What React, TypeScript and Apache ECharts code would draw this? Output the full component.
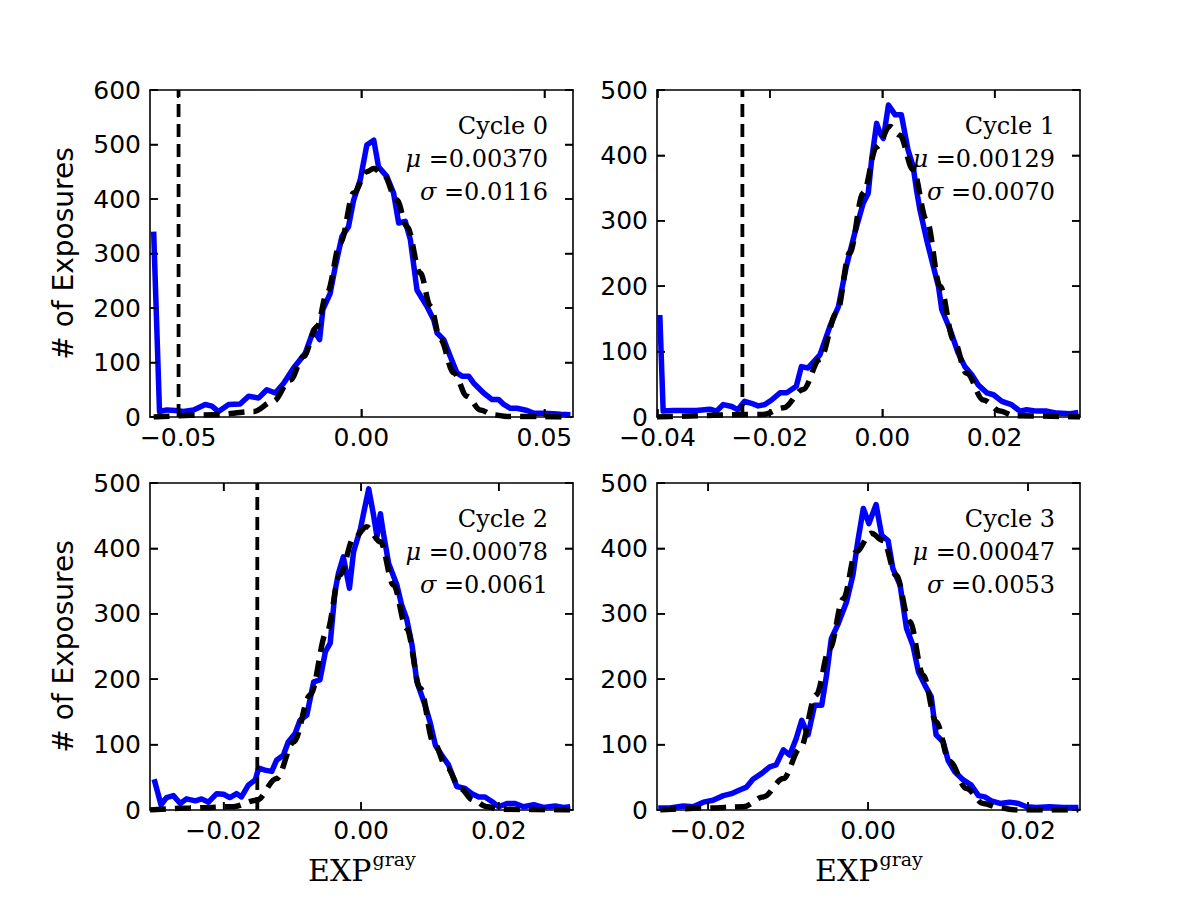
import React, { useEffect, useRef } from "react";
import * as echarts from "echarts";

// ---- Cycle 0 histogram (bin centre, # of exposures)
const cycle0X = [-0.0567,-0.0551,-0.0531,-0.0508,-0.0485,-0.0458,-0.0426,-0.0408,-0.0390,-0.0362,-0.0331,-0.0308,-0.0280,-0.0258,-0.0235,-0.0212,-0.0185,-0.0153,-0.0130,-0.0114,-0.0105,-0.0085,-0.0071,-0.0053,-0.0035,-0.0021,-0.0003,0.0015,0.0034,0.0047,0.0070,0.0088,0.0102,0.0120,0.0134,0.0152,0.0179,0.0198,0.0207,0.0225,0.0243,0.0261,0.0275,0.0293,0.0307,0.0334,0.0357,0.0375,0.0389,0.0407,0.0425,0.0453,0.0471,0.0498,0.0525,0.0544,0.0571];
const cycle0Counts = [340,10,13,12,10,13,23,20,10,23,24,38,35,50,44,62,90,117,160,142,197,227,276,331,349,398,435,499,508,459,441,411,356,359,325,233,203,178,154,142,111,81,75,75,62,44,32,32,23,16,16,12,7,7,6,5,4];
const cycle0FitX = [-0.0567,-0.0403,-0.0294,-0.0240,-0.0194,-0.0158,-0.0121,-0.0094,-0.0057,-0.0021,0.0015,0.0034,0.0061,0.0097,0.0125,0.0161,0.0189,0.0216,0.0252,0.0289,0.0325,0.0361,0.0398,0.0571];
const cycle0FitY = [0,4,10,29,68,111,166,227,319,411,450,456,444,398,349,264,203,142,81,38,13,4,1,0];

// ---- Cycle 1
const cycle1X = [-0.0396,-0.0390,-0.0372,-0.0355,-0.0331,-0.0307,-0.0295,-0.0283,-0.0268,-0.0257,-0.0245,-0.0233,-0.0221,-0.0209,-0.0197,-0.0182,-0.0170,-0.0153,-0.0144,-0.0132,-0.0111,-0.0093,-0.0078,-0.0064,-0.0049,-0.0034,-0.0025,-0.0019,-0.0010,-0.0004,0.0002,0.0011,0.0023,0.0034,0.0046,0.0055,0.0061,0.0067,0.0079,0.0091,0.0100,0.0106,0.0121,0.0135,0.0147,0.0159,0.0171,0.0186,0.0198,0.0213,0.0230,0.0245,0.0257,0.0275,0.0293,0.0311,0.0335,0.0349];
const cycle1Counts = [156,9,10,10,10,12,9,19,16,11,24,21,17,19,26,37,37,47,77,75,95,139,169,230,281,327,342,393,449,434,426,477,462,462,408,383,347,317,271,230,200,164,133,98,77,65,49,37,34,24,19,9,11,9,9,6,5,7];
const cycle1FitX = [-0.0401,-0.0212,-0.0176,-0.0141,-0.0111,-0.0081,-0.0058,-0.0034,-0.0010,0.0014,0.0031,0.0055,0.0079,0.0103,0.0127,0.0150,0.0180,0.0210,0.0234,0.0352];
const cycle1FitY = [0,4,14,42,88,159,251,342,413,444,431,378,301,200,118,67,26,9,2,0];

// ---- Cycle 2
const cycle2X = [-0.0301,-0.0291,-0.0283,-0.0273,-0.0263,-0.0254,-0.0241,-0.0232,-0.0222,-0.0210,-0.0200,-0.0191,-0.0181,-0.0174,-0.0164,-0.0154,-0.0149,-0.0140,-0.0130,-0.0123,-0.0113,-0.0106,-0.0096,-0.0089,-0.0079,-0.0069,-0.0060,-0.0052,-0.0045,-0.0038,-0.0033,-0.0026,-0.0017,-0.0011,-0.0001,0.0004,0.0011,0.0018,0.0023,0.0028,0.0032,0.0040,0.0052,0.0059,0.0066,0.0074,0.0081,0.0093,0.0100,0.0108,0.0117,0.0127,0.0139,0.0151,0.0161,0.0171,0.0180,0.0190,0.0200,0.0212,0.0224,0.0236,0.0251,0.0265,0.0282,0.0294,0.0304];
const cycle2Counts = [47,8,19,22,10,17,14,17,12,25,24,19,25,20,38,46,64,61,59,76,84,104,117,137,145,196,199,242,255,334,362,387,339,395,430,456,491,451,418,453,425,377,344,313,293,252,196,160,135,99,84,69,36,33,25,20,20,13,5,10,10,5,8,4,6,4,5];
const cycle2FitX = [-0.0307,-0.0249,-0.0186,-0.0152,-0.0123,-0.0098,-0.0074,-0.0050,-0.0031,-0.0011,0.0008,0.0028,0.0047,0.0066,0.0086,0.0105,0.0125,0.0144,0.0163,0.0183,0.0202,0.0304];
const cycle2FitY = [0,3,5,15,48,104,176,272,359,415,433,410,344,278,186,104,64,33,15,5,1,0];

// ---- Cycle 3
const cycle3X = [-0.02625,-0.0248,-0.0231,-0.0219,-0.0206,-0.0194,-0.0181,-0.0171,-0.0160,-0.0152,-0.0144,-0.0133,-0.0123,-0.0115,-0.0106,-0.0098,-0.0090,-0.0083,-0.0075,-0.0067,-0.0058,-0.0052,-0.0046,-0.0038,-0.0027,-0.0019,-0.0013,-0.0006,0.0001,0.0010,0.0017,0.0025,0.0031,0.0040,0.0048,0.0056,0.0063,0.0071,0.0079,0.0085,0.0094,0.0100,0.0108,0.0119,0.0129,0.0138,0.0146,0.0154,0.0165,0.0177,0.0188,0.0198,0.0210,0.0227,0.0244,0.0263];
const cycle3Counts = [3,3,6,5,12,15,22,25,31,35,47,56,66,69,92,84,109,137,115,160,160,206,262,283,318,359,410,461,438,467,420,412,369,344,278,252,211,191,173,115,104,76,59,46,38,22,20,14,10,12,10,5,4,5,4,4];
const cycle3FitX = [-0.0260,-0.0202,-0.0156,-0.0131,-0.0106,-0.0085,-0.0065,-0.0048,-0.0031,-0.0015,0.0004,0.0019,0.0035,0.0052,0.0069,0.0085,0.0102,0.0123,0.0144,0.0165,0.0185,0.0263];
const cycle3FitY = [0,3,5,20,48,94,176,247,323,395,423,412,359,288,206,135,74,33,10,3,0,0];

// ---- per-panel axes and annotations
const thresholds = [-0.0499, -0.0249, -0.0151, null];
const xMins = [-0.0577, -0.0401, -0.0307, -0.0264];
const xMaxs = [0.0578, 0.0352, 0.0308, 0.0265];
const xTicks = [[-0.05, 0, 0.05], [-0.04, -0.02, 0, 0.02], [-0.02, 0, 0.02], [-0.02, 0, 0.02]];
const yTicks600 = [0, 100, 200, 300, 400, 500, 600];
const yTicks500 = [0, 100, 200, 300, 400, 500];
const yTicks = [yTicks600, yTicks500, yTicks500, yTicks500];
const yMaxs = [600, 500, 500, 500];
const cycleLabels = ["Cycle 0", "Cycle 1", "Cycle 2", "Cycle 3"];
const muLabels = ["0.00370", "0.00129", "0.00078", "0.00047"];
const sigmaLabels = ["0.0116", "0.0070", "0.0061", "0.0053"];
const yTitle = "# of Exposures";

const histX = [cycle0X, cycle1X, cycle2X, cycle3X];
const histY = [cycle0Counts, cycle1Counts, cycle2Counts, cycle3Counts];
const fitX = [cycle0FitX, cycle1FitX, cycle2FitX, cycle3FitX];
const fitY = [cycle0FitY, cycle1FitY, cycle2FitY, cycle3FitY];

const GL = [150, 657, 150, 657];
const GT = [90, 90, 483, 483];
const GW = 423;
const GH = 327;
const TICK_LEN = 8;

const tickFont = "DejaVu Sans";
const serif = "DejaVu Serif";

function fmtX(v: number) {
  const s = Math.abs(v).toFixed(2);
  return v < -1e-9 ? "\u2212" + s : s;
}

function buildOption() {
  const grid: any[] = [];
  const xAxis: any[] = [];
  const yAxis: any[] = [];
  const series: any[] = [];
  const graphic: any[] = [];

  for (let i = 0; i < 4; i++) {
    grid.push({ left: GL[i], top: GT[i], width: GW, height: GH, show: false });
    const axisLine = () => ({ show: true, onZero: false, lineStyle: { color: "#000", width: 1.6 } });
    const xTick = () => ({ show: true, inside: true, length: TICK_LEN, lineStyle: { color: "#000", width: 1.5 }, customValues: xTicks[i] });
    const yTick = () => ({ show: true, inside: true, length: TICK_LEN, lineStyle: { color: "#000", width: 1.5 } });
    xAxis.push({
      gridIndex: i, type: "value", min: xMins[i], max: xMaxs[i], position: "bottom",
      axisLine: axisLine(), splitLine: { show: false }, axisTick: xTick(),
      axisLabel: {
        show: true, customValues: xTicks[i], formatter: (v: number) => fmtX(v),
        fontFamily: tickFont, fontSize: 25, color: "#000", margin: 8,
      },
    });
    xAxis.push({
      gridIndex: i, type: "value", min: xMins[i], max: xMaxs[i], position: "top",
      axisLine: axisLine(), splitLine: { show: false }, axisTick: xTick(), axisLabel: { show: false },
    });
    yAxis.push({
      gridIndex: i, type: "value", min: 0, max: yMaxs[i], interval: 100, position: "left",
      axisLine: axisLine(), splitLine: { show: false }, axisTick: yTick(),
      axisLabel: { show: true, fontFamily: tickFont, fontSize: 25, color: "#000", margin: 9 },
    });
    yAxis.push({
      gridIndex: i, type: "value", min: 0, max: yMaxs[i], interval: 100, position: "right",
      axisLine: axisLine(), splitLine: { show: false }, axisTick: yTick(), axisLabel: { show: false },
    });

    series.push({
      type: "line", xAxisIndex: 2 * i, yAxisIndex: 2 * i,
      data: histX[i].map((x, k) => [x, histY[i][k]]),
      showSymbol: false, symbol: "none", silent: true, z: 2,
      lineStyle: { color: "#0000ff", width: 5.5, join: "round" },
    });
    series.push({
      type: "line", xAxisIndex: 2 * i, yAxisIndex: 2 * i,
      data: fitX[i].map((x, k) => [x, fitY[i][k]]),
      showSymbol: false, symbol: "none", silent: true, z: 3,
      smooth: 0.35, smoothMonotone: "x",
      lineStyle: { color: "#000", width: 5.5, type: [16, 9], cap: "butt" },
    });
    const th = thresholds[i];
    if (th !== null) {
      series.push({
        type: "line", xAxisIndex: 2 * i, yAxisIndex: 2 * i,
        data: [[th, 0], [th, yMaxs[i]]],
        showSymbol: false, symbol: "none", silent: true, z: 4,
        lineStyle: { color: "#000", width: 3.8, type: [13, 7], cap: "butt" },
      });
    }

    const rx = GL[i] + GW - 25;
    graphic.push({
      type: "text", x: rx, y: GT[i] + 36, z: 10,
      style: { text: cycleLabels[i], font: `24px '${serif}'`, fill: "#000", align: "right", verticalAlign: "middle" },
    });
    graphic.push({
      type: "text", x: rx, y: GT[i] + 69, z: 10,
      style: {
        text: `{m|\u03bc}{n| =${muLabels[i]}}`, align: "right", verticalAlign: "middle",
        rich: {
          m: { fontFamily: serif, fontStyle: "italic", fontSize: 24, fill: "#000" },
          n: { fontFamily: serif, fontSize: 24, fill: "#000" },
        },
      },
    });
    graphic.push({
      type: "text", x: rx, y: GT[i] + 102, z: 10,
      style: {
        text: `{m|\u03c3}{n| =${sigmaLabels[i]}}`, align: "right", verticalAlign: "middle",
        rich: {
          m: { fontFamily: serif, fontStyle: "italic", fontSize: 24, fill: "#000" },
          n: { fontFamily: serif, fontSize: 24, fill: "#000" },
        },
      },
    });
  }

  // y titles (left column)
  [0, 2].forEach((i) => {
    graphic.push({
      type: "text", x: 63, y: GT[i] + GH / 2, rotation: Math.PI / 2,
      style: { text: yTitle, font: `28px '${tickFont}'`, fill: "#000", align: "center", verticalAlign: "middle" },
    });
  });
  // x titles (bottom row)
  [2, 3].forEach((i) => {
    const cx = GL[i] + GW / 2;
    graphic.push({
      type: "text", x: cx + 10, y: 870,
      style: { text: "EXP", font: `30px '${serif}'`, fill: "#000", align: "right", verticalAlign: "middle" },
    });
    graphic.push({
      type: "text", x: cx + 11, y: 859,
      style: { text: "gray", font: `19px '${serif}'`, fill: "#000", align: "left", verticalAlign: "middle" },
    });
  });

  return {
    animation: false,
    backgroundColor: "#fff",
    grid, xAxis, yAxis, series, graphic,
  };
}

// extra inward tick marks on all four sides, positioned through the chart's own axis scales
function buildTicks(chart: any) {
  const out: any[] = [];
  for (let i = 0; i < 4; i++) {
    const finder = { gridIndex: i };
    const push = (x1: number, y1: number, x2: number, y2: number) =>
      out.push({ type: "line", z: 50, silent: true, shape: { x1, y1, x2, y2 }, style: { stroke: "#000", lineWidth: 1.5 } });
    xTicks[i].forEach((v) => {
      const b = chart.convertToPixel(finder, [v, 0]);
      const t = chart.convertToPixel(finder, [v, yMaxs[i]]);
      if (!b || !t) return;
      push(b[0], b[1], b[0], b[1] - TICK_LEN);
      push(t[0], t[1], t[0], t[1] + TICK_LEN);
    });
    yTicks[i].forEach((v) => {
      const l = chart.convertToPixel(finder, [xMins[i], v]);
      const r = chart.convertToPixel(finder, [xMaxs[i], v]);
      if (!l || !r) return;
      push(l[0], l[1], l[0] + TICK_LEN, l[1]);
      push(r[0], r[1], r[0] - TICK_LEN, r[1]);
    });
  }
  return out;
}

export default function App() {
  const ref = useRef<HTMLDivElement>(null);
  useEffect(() => {
    if (!ref.current) return;
    const chart = echarts.init(ref.current, undefined, { renderer: "svg" });
    const option: any = buildOption();
    chart.setOption(option);
    try {
      const ticks = buildTicks(chart);
      chart.setOption({ graphic: [...option.graphic, ...ticks] } as any);
    } catch (e) {
      // keep the chart as drawn if conversion fails
    }
    return () => chart.dispose();
  }, []);
  return (
    <div
      ref={ref}
      style={{ position: "absolute", left: 0, top: 0, width: 1200, height: 900, background: "#fff" }}
    />
  );
}
